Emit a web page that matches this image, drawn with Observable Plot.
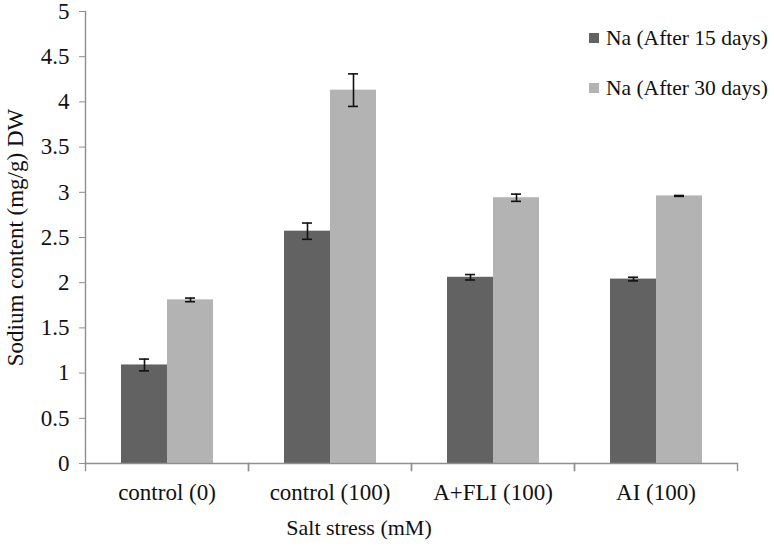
<!DOCTYPE html>
<html>
<head>
<meta charset="utf-8">
<script src="https://cdn.jsdelivr.net/npm/d3@7"></script>
<script src="https://cdn.jsdelivr.net/npm/@observablehq/plot@0.6"></script>
<style>
  html, body { margin: 0; padding: 0; background: #fff; }
  #wrap { position: relative; width: 774px; height: 549px; font-family: "Liberation Serif", "Times New Roman", serif; }
  #legend { position: absolute; left: 589px; top: 26px; font-size: 21.5px; color: #111; }
  #legend .item { display: flex; align-items: center; height: 24px; margin-bottom: 26px; white-space: nowrap; }
  #legend .sw { width: 10px; height: 10px; margin-right: 7px; }
  #xtitle { position: absolute; left: 209px; top: 517px; width: 300px; text-align: center; font-size: 22px; line-height: 22px; color: #111; white-space: nowrap; }
</style>
</head>
<body>
<div id="wrap"><div id="legend"></div><div id="xtitle"></div></div>
<script>
const categories = ["control (0)", "control (100)", "A+FLI (100)", "AI (100)"];
const seriesNames = ["Na (After 15 days)", "Na (After 30 days)"];
const na15 = [1.09, 2.57, 2.06, 2.04];
const na15Err = [0.065, 0.09, 0.03, 0.02];
const na30 = [1.81, 4.13, 2.94, 2.96];
const na30Err = [0.02, 0.18, 0.04, 0.005];
const yTicks = [0, 0.5, 1, 1.5, 2, 2.5, 3, 3.5, 4, 4.5, 5];
const yTitle = "Sodium content (mg/g) DW";
const xTitle = "Salt stress (mM)";
const colors = ["#626262", "#b3b3b3"];

const rows = [];
categories.forEach((c, i) => {
  rows.push({cat: c, series: seriesNames[0], value: na15[i], err: na15Err[i]});
  rows.push({cat: c, series: seriesNames[1], value: na30[i], err: na30Err[i]});
});

const axisGray = "#8f8f8f";

const chart = Plot.plot({
  width: 774,
  height: 549,
  marginLeft: 85,
  marginRight: 37,
  marginTop: 11,
  marginBottom: 86,
  style: {fontFamily: "'Liberation Serif', 'Times New Roman', serif", fontSize: "22px", color: "#111", background: "white"},
  fx: {domain: categories, padding: 0, label: null},
  x: {domain: seriesNames, paddingInner: 0, paddingOuter: 0.76, axis: null},
  y: {domain: [0, 5]},
  color: {domain: seriesNames, range: colors},
  marks: [
    Plot.barY(rows, {fx: "cat", x: "series", y: "value", fill: "series"}),
    Plot.ruleX(rows, {fx: "cat", x: "series", y1: d => d.value - d.err, y2: d => d.value + d.err, stroke: "#111", strokeWidth: 1.6}),
    Plot.tickY(rows, {fx: "cat", x: "series", y: d => d.value - d.err, stroke: "#111", strokeWidth: 1.6, insetLeft: 18, insetRight: 18}),
    Plot.tickY(rows, {fx: "cat", x: "series", y: d => d.value + d.err, stroke: "#111", strokeWidth: 1.6, insetLeft: 18, insetRight: 18}),
    Plot.ruleY([0], {stroke: axisGray, strokeWidth: 1.4}),
    Plot.frame({anchor: "left", stroke: axisGray, strokeWidth: 1.4, insetTop: 452, insetBottom: -7}),
    Plot.frame({anchor: "right", stroke: axisGray, strokeWidth: 1.4, insetTop: 452, insetBottom: -7}),
    Plot.frame({anchor: "left", stroke: axisGray, strokeWidth: 1.4, facetAnchor: "left"}),
    Plot.axisY({ticks: yTicks, tickSize: 6, tickPadding: 10, stroke: axisGray, fontSize: 23, tickFormat: d => String(d),
      label: yTitle, labelAnchor: "center", labelArrow: "none", labelOffset: 79}),
    Plot.axisFx({anchor: "bottom", tickSize: 0, tickPadding: 20, fontSize: 23, label: null})
  ]
});

document.getElementById("wrap").prepend(chart);
document.getElementById("xtitle").textContent = xTitle;

const legend = document.getElementById("legend");
seriesNames.forEach((s, i) => {
  const item = document.createElement("div");
  item.className = "item";
  const sw = document.createElement("span");
  sw.className = "sw";
  sw.style.background = colors[i];
  const t = document.createElement("span");
  t.textContent = s;
  item.append(sw, t);
  legend.append(item);
});
</script>
</body>
</html>
